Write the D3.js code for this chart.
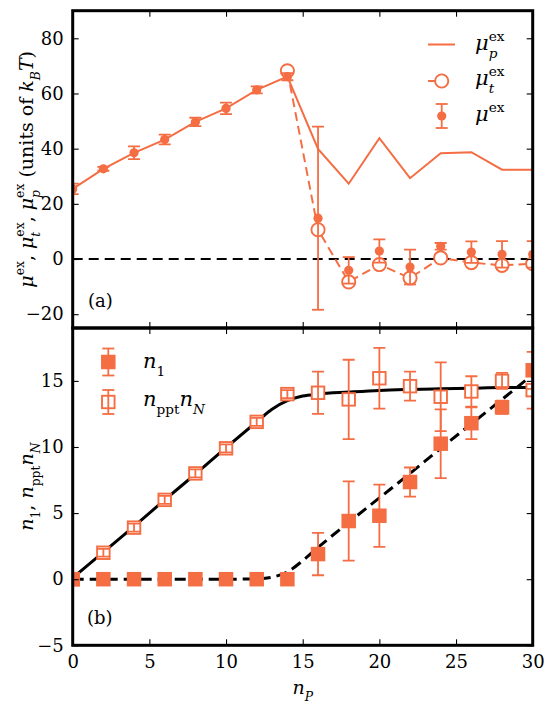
<!DOCTYPE html>
<html><head><meta charset="utf-8">
<script src="https://cdn.jsdelivr.net/npm/d3@7"></script>
<style>body{margin:0;background:#fff}svg text{font-family:"DejaVu Serif","Liberation Serif",serif;fill:#000}</style>
</head><body><svg id="c" width="553" height="711"></svg>
<script>
// ---------- data ----------
const nP       = [0,2,4,6,8,10,12,14,16,18,20,22,24,26,28,30];
const muEx     = [25.4,32.7,38.5,43.3,49.7,54.6,61.3,66.1,14.8,-4.1,2.9,-2.9,4.6,2.5,1.7,1.7];
const muExErr  = [1.9,0.7,2.3,1.75,1.5,2.1,1.3,1.3,33.2,4.8,4.2,6.3,1.2,3.9,4.8,4.8];
const muTx     = [14,16,18,20,22,24,26,28,30];
const muT      = [68.2,10.6,-8.3,-2.0,-6.9,0.4,-1.3,-2.3,-1.7];
const muP      = [25.4,32.7,38.5,43.3,49.7,54.6,61.3,66.1,39.9,27.3,43.8,29.3,38.3,38.7,32.4,32.4];
const n1       = [0,0,0,0,0,0,0,0,1.9,4.4,4.8,7.35,10.25,11.8,13.0,15.8];
const n1Err    = [0,0,0,0,0,0,0,0,1.6,3.0,2.35,1.1,2.6,1.2,0.5,1.4];
const nN       = [0,2.0,3.9,6.0,8.0,9.9,11.9,14.0,14.1,13.6,15.2,14.6,13.8,14.2,15.0,14.3];
const nNErr    = [0,0.3,0.3,0.3,0.3,0.3,0.3,0.3,1.6,3.0,2.3,1.1,2.6,1.15,0.6,1.4];
const fitX     = [0,2,4,6,8,10,12,13,14,15,16,18,20,22,24,26,28,30];
const fitNN    = [0.1,2.05,4.0,6.0,7.95,9.95,11.9,12.85,13.5,13.85,14.0,14.15,14.28,14.35,14.4,14.45,14.5,14.5];
const fitN1x   = [0,2,4,6,8,10,12,13,14,15,16,18,20,22,24,26,28,29.6];
const fitN1    = [0,0,0,0,0,0,0.02,0.15,0.55,1.4,2.4,4.3,6.15,8.0,9.9,11.75,13.6,15.1];
const xTicks   = [0,5,10,15,20,25,30];
const yTicksTop= [-20,0,20,40,60,80];
const yTicksBot= [-5,0,5,10,15];

// ---------- layout ----------
const C = "#f46d43";
const FONT = '"DejaVu Serif","Liberation Serif",serif';
const svg = d3.select("#c");
const X0=72.7, X1=532.7, T0=10.7, T1=328, B0=328, B1=645.3;
const x  = d3.scaleLinear().domain([0,30]).range([X0,X1]);
const yT = d3.scaleLinear().domain([-25,90]).range([T1,T0]);
const yB = d3.scaleLinear().domain([-5,19]).range([B1,B0]);
const FS = 18;

const defs = svg.append("defs");
defs.append("clipPath").attr("id","ct").append("rect").attr("x",X0).attr("y",T0).attr("width",X1-X0).attr("height",T1-T0);
defs.append("clipPath").attr("id","cb").append("rect").attr("x",X0).attr("y",B0).attr("width",X1-X0).attr("height",B1-B0);

function axes(yS, yTicks, top, bot, xLabels){
  const g = svg.append("g");
  const fmt = d3.format("d");
  g.append("g").attr("transform",`translate(${X0},0)`).call(d3.axisLeft(yS).tickValues(yTicks).tickSize(-6).tickPadding(9).tickFormat(fmt));
  g.append("g").attr("transform",`translate(${X1},0)`).call(d3.axisRight(yS).tickValues(yTicks).tickSize(-6).tickFormat(""));
  g.append("g").attr("transform",`translate(0,${top})`).call(d3.axisTop(x).tickValues(xTicks).tickSize(-6).tickFormat(""));
  g.append("g").attr("transform",`translate(0,${bot})`).call(d3.axisBottom(x).tickValues(xTicks).tickSize(-6).tickPadding(10).tickFormat(xLabels?fmt:""));
  g.selectAll(".domain").remove();
  g.selectAll(".tick line").attr("stroke","#000").attr("stroke-width",1.1);
  g.selectAll(".tick text").style("font-family",FONT).attr("font-size",FS).attr("fill","#000");
  return g;
}

function errbars(g, xs, ys, es, yS, cap){
  const d = xs.map((v,i)=>({x:v,y:ys[i],e:es[i]})).filter(d=>d.e>0);
  g.selectAll(null).data(d).enter().append("line")
    .attr("x1",d=>x(d.x)).attr("x2",d=>x(d.x)).attr("y1",d=>yS(d.y-d.e)).attr("y2",d=>yS(d.y+d.e))
    .attr("stroke",C).attr("stroke-width",1.8);
  [-1,1].forEach(s=>{
    g.selectAll(null).data(d).enter().append("line")
      .attr("x1",d=>x(d.x)-cap).attr("x2",d=>x(d.x)+cap).attr("y1",d=>yS(d.y+s*d.e)).attr("y2",d=>yS(d.y+s*d.e))
      .attr("stroke",C).attr("stroke-width",1.8);
  });
}

// one <text> element per label; scripts are tspans placed with absolute x/y
function mathText(parent, tokens, fs){
  const outer = parent.append("g");
  const g = outer.append("g");
  const text = g.append("text").style("white-space","pre");
  let cx = 0;
  tokens.forEach(tk=>{
    const t = text.append("tspan").attr("x",cx).attr("y",0).attr("font-size",fs)
      .attr("font-style",tk.i?"italic":"normal").text(tk.t);
    cx += t.node().getComputedTextLength();
    let w = 0;
    if (tk.sup){
      const s = text.append("tspan").attr("x",cx).attr("y",-0.45*fs).attr("font-size",0.65*fs).attr("font-style","normal").text(tk.sup);
      w = Math.max(w, s.node().getComputedTextLength());
    }
    if (tk.sub){
      const s = text.append("tspan").attr("x",cx).attr("y",0.36*fs).attr("font-size",0.65*fs)
        .attr("font-style",tk.subR?"normal":"italic").text(tk.sub);
      w = Math.max(w, s.node().getComputedTextLength());
    }
    cx += w;
  });
  return {g, outer, w:cx};
}

// ---------- top panel ----------
const gt = svg.append("g").attr("clip-path","url(#ct)");
gt.append("line").attr("x1",X0).attr("x2",X1).attr("y1",yT(0)).attr("y2",yT(0))
  .attr("stroke","#000").attr("stroke-width",2).attr("stroke-dasharray","10,6");
gt.append("path").datum(nP.map((v,i)=>[v,muP[i]]))
  .attr("d",d3.line().x(d=>x(d[0])).y(d=>yT(d[1])))
  .attr("fill","none").attr("stroke",C).attr("stroke-width",2);
gt.append("path").datum(muTx.map((v,i)=>[v,muT[i]]))
  .attr("d",d3.line().x(d=>x(d[0])).y(d=>yT(d[1])))
  .attr("fill","none").attr("stroke",C).attr("stroke-width",2).attr("stroke-dasharray","9,5");
gt.selectAll(null).data(muTx.map((v,i)=>[v,muT[i]])).enter().append("circle")
  .attr("cx",d=>x(d[0])).attr("cy",d=>yT(d[1])).attr("r",6.6)
  .attr("fill","#fff").attr("stroke",C).attr("stroke-width",1.9);
errbars(gt, nP, muEx, muExErr, yT, 6);
gt.selectAll(null).data(nP.map((v,i)=>[v,muEx[i]])).enter().append("circle")
  .attr("cx",d=>x(d[0])).attr("cy",d=>yT(d[1])).attr("r",4.6).attr("fill",C);

// ---------- bottom panel ----------
const gb = svg.append("g").attr("clip-path","url(#cb)");
gb.append("path").datum(fitX.map((v,i)=>[v,fitNN[i]]))
  .attr("d",d3.line().curve(d3.curveMonotoneX).x(d=>x(d[0])).y(d=>yB(d[1])))
  .attr("fill","none").attr("stroke","#000").attr("stroke-width",3);
gb.append("path").datum(fitN1x.map((v,i)=>[v,fitN1[i]]))
  .attr("d",d3.line().curve(d3.curveMonotoneX).x(d=>x(d[0])).y(d=>yB(d[1])))
  .attr("fill","none").attr("stroke","#000").attr("stroke-width",3).attr("stroke-dasharray","11,6");
const SQ = 14.5, SO = 12.5;
gb.selectAll(null).data(nP.map((v,i)=>[v,nN[i]])).enter().append("rect")
  .attr("x",d=>x(d[0])-SO/2).attr("y",d=>yB(d[1])-SO/2).attr("width",SO).attr("height",SO)
  .attr("fill","#fff").attr("stroke",C).attr("stroke-width",1.9);
errbars(gb, nP, nN, nNErr, yB, 6);
gb.selectAll(null).data(nP.map((v,i)=>[v,n1[i]])).enter().append("rect")
  .attr("x",d=>x(d[0])-SQ/2).attr("y",d=>yB(d[1])-SQ/2).attr("width",SQ).attr("height",SQ).attr("fill",C);
errbars(gb, nP, n1, n1Err, yB, 6);

// ---------- axes & frames ----------
axes(yT, yTicksTop, T0, T1, false);
axes(yB, yTicksBot, B0, B1, true);
svg.append("rect").attr("x",X0).attr("y",T0).attr("width",X1-X0).attr("height",T1-T0)
  .attr("fill","none").attr("stroke","#000").attr("stroke-width",3);
svg.append("rect").attr("x",X0).attr("y",B0).attr("width",X1-X0).attr("height",B1-B0)
  .attr("fill","none").attr("stroke","#000").attr("stroke-width",3);

svg.append("text").attr("x",88).attr("y",307).attr("font-size",FS).text("(a)");
svg.append("text").attr("x",87).attr("y",624).attr("font-size",FS).text("(b)");

// ---------- legends ----------
const lg = svg.append("g");
lg.append("line").attr("x1",428).attr("x2",455).attr("y1",44.5).attr("y2",44.5).attr("stroke",C).attr("stroke-width",2);
lg.append("line").attr("x1",428).attr("x2",437).attr("y1",81).attr("y2",81).attr("stroke",C).attr("stroke-width",2);
lg.append("circle").attr("cx",441.7).attr("cy",81).attr("r",6.6).attr("fill","#fff").attr("stroke",C).attr("stroke-width",1.9);
lg.append("line").attr("x1",441.7).attr("x2",441.7).attr("y1",104).attr("y2",128).attr("stroke",C).attr("stroke-width",1.8);
[104,128].forEach(yy=>lg.append("line").attr("x1",435.7).attr("x2",447.7).attr("y1",yy).attr("y2",yy).attr("stroke",C).attr("stroke-width",1.8));
lg.append("circle").attr("cx",441.7).attr("cy",116).attr("r",4.6).attr("fill",C);
mathText(lg, [{t:"μ",i:true,sup:"ex",sub:"p"}], 21).outer.attr("transform","translate(475,50)");
mathText(lg, [{t:"μ",i:true,sup:"ex",sub:"t"}], 21).outer.attr("transform","translate(475,85)");
mathText(lg, [{t:"μ",i:true,sup:"ex"}], 21).outer.attr("transform","translate(475,121)");

lg.append("line").attr("x1",108.3).attr("x2",108.3).attr("y1",348.5).attr("y2",375.5).attr("stroke",C).attr("stroke-width",1.8);
[348.5,375.5].forEach(yy=>lg.append("line").attr("x1",102.3).attr("x2",114.3).attr("y1",yy).attr("y2",yy).attr("stroke",C).attr("stroke-width",1.8));
lg.append("rect").attr("x",108.3-SQ/2).attr("y",362-SQ/2).attr("width",SQ).attr("height",SQ).attr("fill",C);
lg.append("rect").attr("x",108.3-SO/2).attr("y",402-SO/2).attr("width",SO).attr("height",SO).attr("fill","#fff").attr("stroke",C).attr("stroke-width",1.9);
lg.append("line").attr("x1",108.3).attr("x2",108.3).attr("y1",390).attr("y2",414).attr("stroke",C).attr("stroke-width",1.8);
[390,414].forEach(yy=>lg.append("line").attr("x1",102.3).attr("x2",114.3).attr("y1",yy).attr("y2",yy).attr("stroke",C).attr("stroke-width",1.8));
mathText(lg, [{t:"n",i:true,sub:"1",subR:true}], 21).outer.attr("transform","translate(143,368)");
mathText(lg, [{t:"n",i:true,sub:"ppt",subR:true},{t:"n",i:true,sub:"N"}], 21).outer.attr("transform","translate(143,406)");

// ---------- axis labels ----------
const SP = "\u00a0";
const yl1 = mathText(svg, [
  {t:"μ",i:true,sup:"ex"},{t:","+SP},
  {t:"μ",i:true,sup:"ex",sub:"t"},{t:","+SP},
  {t:"μ",i:true,sup:"ex",sub:"p"},{t:SP+"(units"+SP+"of"+SP},
  {t:"k",i:true,sub:"B"},{t:"T",i:true},{t:")"}], 19);
yl1.g.attr("transform",`translate(${-yl1.w/2},0)`);
yl1.outer.attr("transform",`translate(33,${(T0+T1)/2}) rotate(-90)`);

const yl2 = mathText(svg, [
  {t:"n",i:true,sub:"1",subR:true},{t:","+SP},
  {t:"n",i:true,sub:"ppt",subR:true},{t:"n",i:true,sub:"N"}], 19);
yl2.g.attr("transform",`translate(${-yl2.w/2},0)`);
yl2.outer.attr("transform",`translate(33,${(B0+B1)/2}) rotate(-90)`);

const xl = mathText(svg, [{t:"n",i:true,sub:"P"}], 19);
xl.g.attr("transform",`translate(${-xl.w/2},0)`);
xl.outer.attr("transform",`translate(${(X0+X1)/2},694)`);
</script></body></html>
